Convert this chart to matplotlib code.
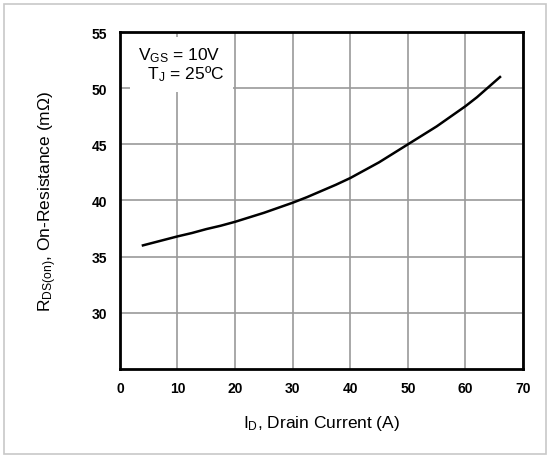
import numpy as np
import matplotlib.pyplot as plt
from matplotlib.patches import Rectangle

plt.rcParams['font.family'] = ['Liberation Sans', 'DejaVu Sans']
plt.rcParams['mathtext.fontset'] = 'custom'
plt.rcParams['mathtext.rm'] = 'Liberation Sans'
plt.rcParams['mathtext.it'] = 'Liberation Sans'

# drain current (A) and on-resistance (mOhm)
current = [4, 7, 10, 12.5, 15, 17.5, 20, 22.5, 25, 27.5, 30, 32.5, 35, 37.5, 40,
           42.5, 45, 47.5, 50, 52.5, 55, 57.5, 60, 62, 64, 66]
resistance = [36.0, 36.4, 36.8, 37.1, 37.45, 37.75, 38.1, 38.5, 38.9, 39.35, 39.8, 40.3,
              40.85, 41.4, 42.0, 42.7, 43.4, 44.2, 45.0, 45.8, 46.6, 47.5, 48.4, 49.2, 50.1, 51.0]

x_ticks = [0, 10, 20, 30, 40, 50, 60, 70]
y_ticks = [30, 35, 40, 45, 50, 55]

fig = plt.figure(figsize=(5.5, 4.6), dpi=100)
ax = fig.add_axes([0.218, 0.196, 0.733, 0.732])

fig.patches.append(Rectangle((0.008, 0.01), 0.984, 0.98, transform=fig.transFigure,
                             fill=False, edgecolor='#c8c8c8', linewidth=1.2))

ax.plot(current, resistance, color='black', linewidth=1.8, zorder=3)

ax.set_xlim(0, 70)
ax.set_ylim(25, 55)
ax.set_xticks(x_ticks)
ax.set_yticks(y_ticks)
ax.tick_params(length=0, labelsize=10, pad=9)
for lab in ax.get_xticklabels() + ax.get_yticklabels():
    lab.set_fontweight('bold')
ax.grid(True, color='#9a9a9a', linewidth=1.2)
ax.set_axisbelow(True)
for s in ax.spines.values():
    s.set_linewidth(2)
    s.set_color('black')

ax.set_xlabel(r'I$_{\rm D}$, Drain Current (A)', fontsize=12.5, labelpad=13)
ax.set_ylabel(r'R$_{\rm DS(on)}$, On-Resistance (m$\Omega$)', fontsize=12.5, labelpad=24)

ax.text(0.045, 0.96, 'V$_{\\rm GS}$ = 10V\n  T$_{\\rm J}$ = 25ºC', transform=ax.transAxes,
        fontsize=12.5, va='top', ha='left', linespacing=0.95, zorder=4,
        bbox=dict(facecolor='white', edgecolor='none', pad=6))

plt.savefig('out.png', dpi=100)
